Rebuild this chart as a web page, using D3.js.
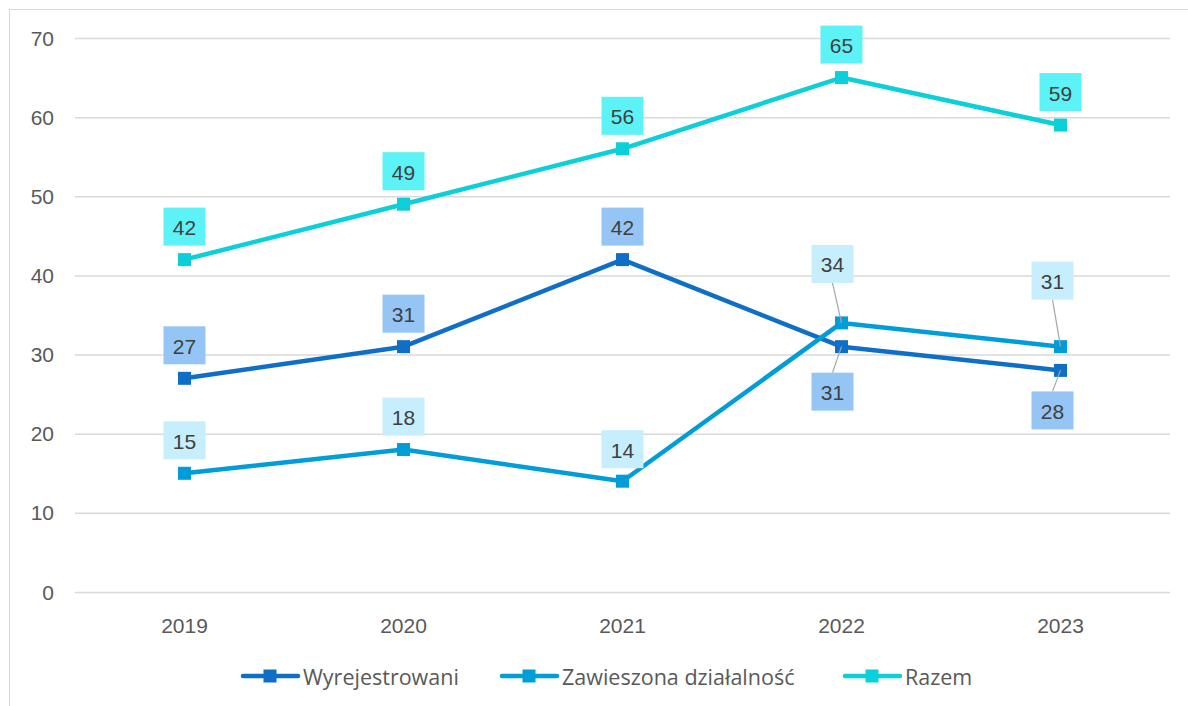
<!DOCTYPE html>
<meta charset="utf-8">
<script src="https://d3js.org/d3.v7.min.js"></script>
<style>
  body { margin: 0; background: #fff; }
  text { font-family: "Liberation Sans", Arial, sans-serif; }
</style>
<svg id="chart" width="1188" height="706"></svg>
<script>

// data
const years = ["2019", "2020", "2021", "2022", "2023"]
const wyrejestrowani = [27, 31, 42, 31, 28]
const zawieszona = [15, 18, 14, 34, 31]
const razem = [42, 49, 56, 65, 59]
const yTicks = [0, 10, 20, 30, 40, 50, 60, 70]

const series = [
  { name: "Wyrejestrowani", values: wyrejestrowani, color: "#0F6FC6", box: "#95C5F4",
    // label offsets [dx, dy] from the point, in px
    offs: [[0,-33],[0,-33],[0,-33],[-9,45],[-8,40]] },
  { name: "Zawieszona działalność", values: zawieszona, color: "#009DD9", box: "#C6EEFC",
    offs: [[0,-33],[0,-33],[0,-32],[-9,-59],[-8,-66]] },
  { name: "Razem", values: razem, color: "#0BD0D9", box: "#5CF2F6",
    offs: [[0,-33],[0,-33],[0,-33],[0,-33],[0,-33]] }
]

const svg = d3.select("#chart")
const width = +svg.attr("width"), height = +svg.attr("height")

// frame
svg.append("rect")
  .attr("x", 9.5).attr("y", 9.5)
  .attr("width", width).attr("height", height)
  .attr("fill", "none").attr("stroke", "#D9D9D9")

const x = d3.scaleBand().domain(years).range([75, 1170])
const y = d3.scaleLinear().domain([0, 70]).range([592, 38])
const cx = d => x(d) + x.bandwidth() / 2

// gridlines
svg.append("g")
  .selectAll("line")
  .data(yTicks)
  .join("line")
    .attr("x1", 75).attr("x2", 1170)
    .attr("y1", d => y(d) + 0.5).attr("y2", d => y(d) + 0.5)
    .attr("stroke", "#D9D9D9").attr("stroke-width", 1.5)

// y labels
svg.append("g")
  .selectAll("text")
  .data(yTicks)
  .join("text")
    .attr("x", 54).attr("y", d => y(d))
    .attr("text-anchor", "end").attr("dominant-baseline", "central")
    .attr("fill", "#595959").style("font-size", "21px")
    .text(d => d)

// x labels
svg.append("g")
  .selectAll("text")
  .data(years)
  .join("text")
    .attr("x", d => cx(d)).attr("y", 625)
    .attr("text-anchor", "middle").attr("dominant-baseline", "central")
    .attr("fill", "#595959").style("font-size", "21px")
    .text(d => d)

const line = d3.line().x((d, i) => cx(years[i])).y(d => y(d))

series.forEach(s => {
  const g = svg.append("g")
  g.append("path")
    .attr("d", line(s.values))
    .attr("fill", "none").attr("stroke", s.color)
    .attr("stroke-width", 4.5).attr("stroke-linejoin", "round").attr("stroke-linecap", "round")
  g.selectAll("rect.m")
    .data(s.values)
    .join("rect")
      .attr("class", "m")
      .attr("x", (d, i) => cx(years[i]) - 6.5).attr("y", d => y(d) - 6.5)
      .attr("width", 13).attr("height", 13)
      .attr("fill", s.color)
})

// data labels (drawn after all lines)
series.forEach(s => {
  const g = svg.append("g")
  s.values.forEach((v, i) => {
    const px = cx(years[i]), py = y(v)
    const [dx, dy] = s.offs[i]
    const lx = px + dx, ly = py + dy
    if (Math.abs(dy) > 36) {
      // leader line from box edge to point
      const edge = dy < 0 ? ly + 19 : ly - 19
      g.append("line")
        .attr("x1", lx).attr("y1", edge)
        .attr("x2", px).attr("y2", py)
        .attr("stroke", "#A6A6A6").attr("stroke-width", 1.2)
    }
    g.append("rect")
      .attr("x", lx - 21).attr("y", ly - 19)
      .attr("width", 42).attr("height", 38)
      .attr("fill", s.box)
    g.append("text")
      .attr("x", lx).attr("y", ly + 1)
      .attr("text-anchor", "middle").attr("dominant-baseline", "central")
      .attr("fill", "#404040").style("font-size", "21px")
      .text(v)
  })
})

// legend
const legendX = [243, 502, 845]
const legend = svg.append("g")
series.forEach((s, i) => {
  const lx = legendX[i], ly = 676
  legend.append("line")
    .attr("x1", lx).attr("x2", lx + 55)
    .attr("y1", ly).attr("y2", ly)
    .attr("stroke", s.color).attr("stroke-width", 4.5).attr("stroke-linecap", "round")
  legend.append("rect")
    .attr("x", lx + 27 - 6.5).attr("y", ly - 6.5)
    .attr("width", 13).attr("height", 13)
    .attr("fill", s.color)
  legend.append("text")
    .attr("x", lx + 60).attr("y", ly)
    .attr("dominant-baseline", "central")
    .attr("fill", "#595959")
    .style("font-family", "'Open Sans', sans-serif").style("font-size", "21.5px")
    .text(s.name)
})

</script>
